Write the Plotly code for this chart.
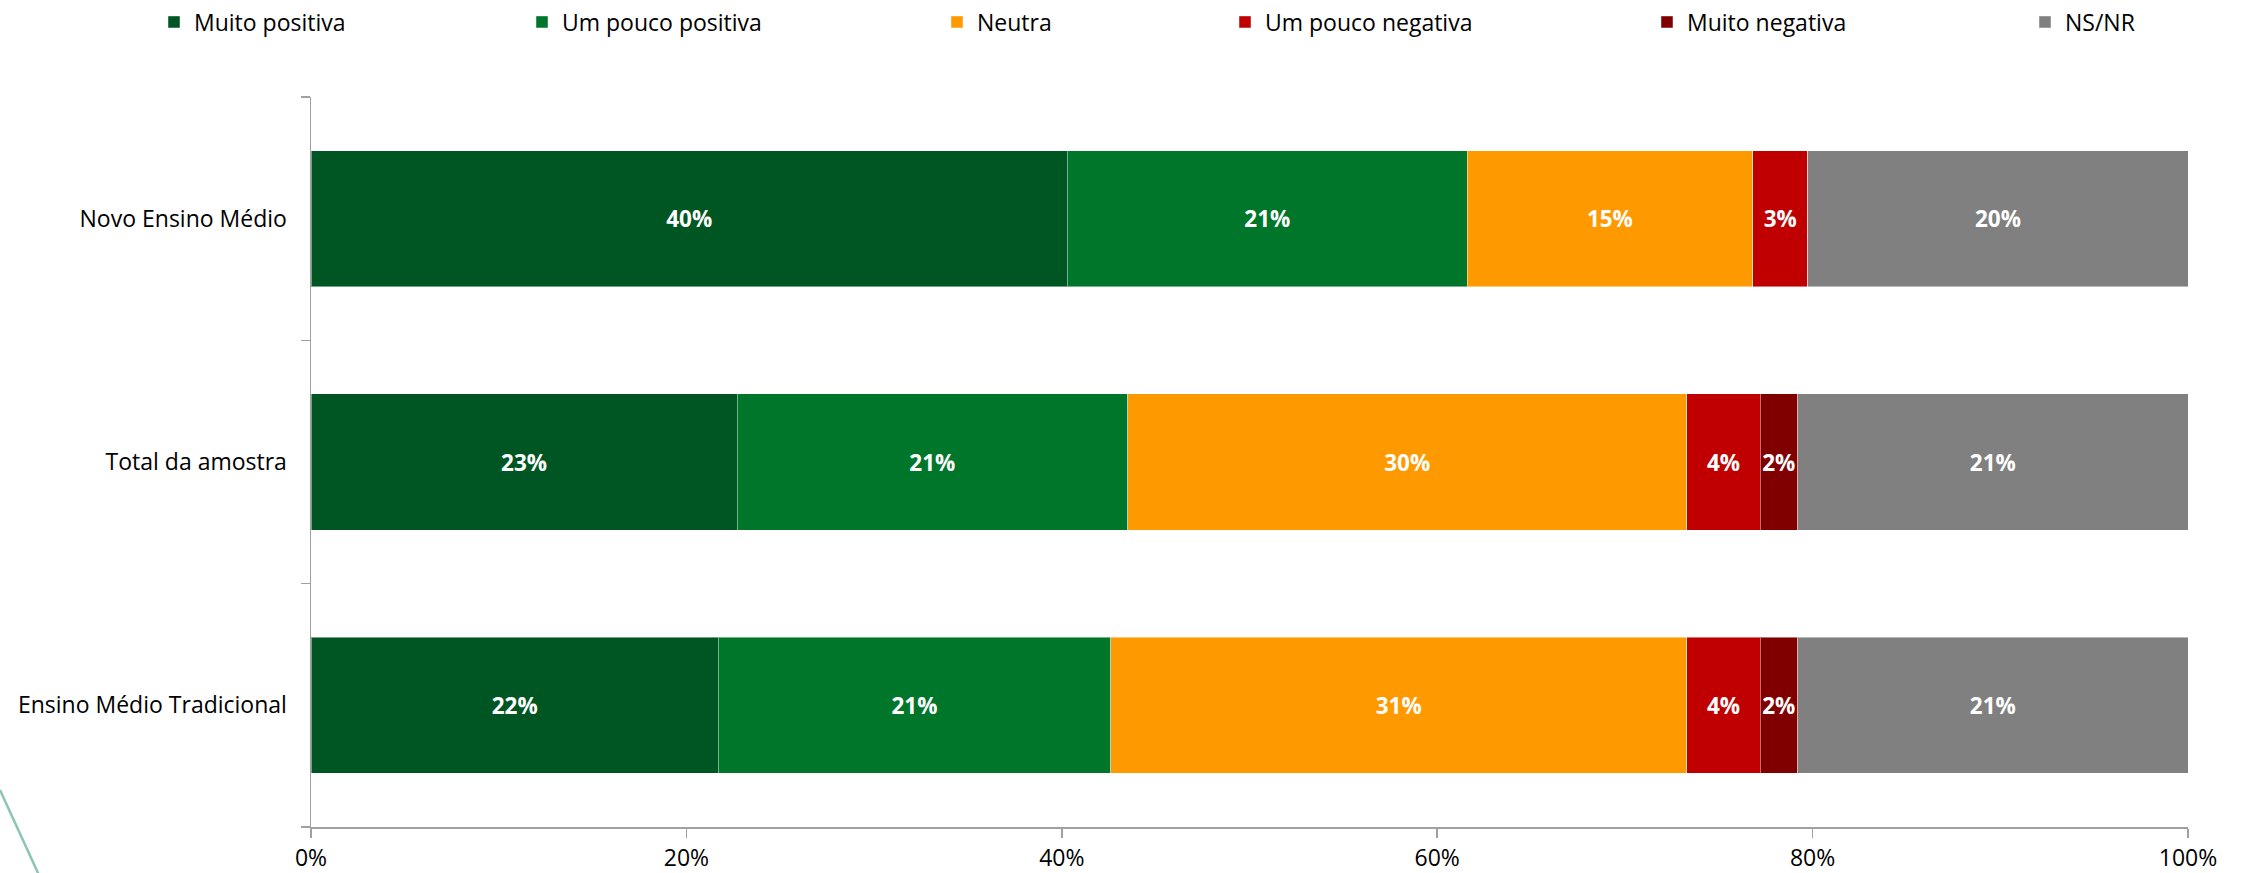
import plotly.graph_objects as go

categories = ["Novo Ensino Médio", "Total da amostra", "Ensino Médio Tradicional"]
series_names = ["Muito positiva", "Um pouco positiva", "Neutra",
                "Um pouco negativa", "Muito negativa", "NS/NR"]
muito_positiva = [40.3, 22.7, 21.7]
um_pouco_positiva = [21.3, 20.8, 20.9]
neutra = [15.2, 29.8, 30.7]
um_pouco_negativa = [2.95, 3.9, 3.9]
muito_negativa = [0.0, 2.0, 2.0]
ns_nr = [20.25, 20.8, 20.8]
x_ticks = [0, 20, 40, 60, 80, 100]
x_tick_labels = ["0%", "20%", "40%", "60%", "80%", "100%"]

values = [muito_positiva, um_pouco_positiva, neutra, um_pouco_negativa, muito_negativa, ns_nr]
colors = ["#005622", "#00762A", "#FF9900", "#C00000", "#800000", "#808080"]

W, H = 2248, 873
L, R, T, B = 311, 2188, 97, 827
FONT = "Open Sans"

# legend symbol centres (px)
leg_centers = [175, 543, 958, 1246, 1668, 2046]

fig = go.Figure()
for i, (name, vals, col) in enumerate(zip(series_names, values, colors)):
    txt = [f"{v:.0f}%" if v > 0.5 else "" for v in vals]
    fig.add_trace(go.Bar(
        y=categories, x=vals, name=name, orientation="h",
        marker=dict(color=col, line=dict(color="rgba(255,255,255,0.45)", width=1)),
        text=txt, textposition="inside", insidetextanchor="middle",
        textangle=0, constraintext="none",
        textfont=dict(family=FONT, size=22.5, color="white", weight="bold"),
        legend="legend" if i == 0 else f"legend{i+1}",
        showlegend=True,
        hoverinfo="skip",
    ))

layout_legends = {}
for i, cx in enumerate(leg_centers):
    key = "legend" if i == 0 else f"legend{i+1}"
    layout_legends[key] = dict(
        x=(cx - 21) / W, xref="container", xanchor="left",
        y=1 - 22 / H, yref="container", yanchor="middle",
        orientation="h", bgcolor="rgba(0,0,0,0)", borderwidth=0,
        font=dict(family=FONT, size=23, color="#000000"),
        itemwidth=30, visible=True,
    )

axis_col = "#A0A0A0"
fig.update_layout(
    template="none",
    width=W, height=H, autosize=False, showlegend=True,
    margin=dict(l=L, r=W - R, t=T, b=H - B, pad=0, autoexpand=False),
    barmode="stack", bargap=0.44,
    plot_bgcolor="white", paper_bgcolor="white",
    font=dict(family=FONT, size=23, color="#000000"),
    xaxis=dict(range=[0, 100], tickvals=x_ticks, ticktext=x_tick_labels,
               showgrid=False, zeroline=False, showline=True, linecolor=axis_col,
               linewidth=1.5, ticks="outside", ticklen=9, tickcolor=axis_col,
               tickwidth=1.5, ticklabelstandoff=1, automargin=False,
               tickfont=dict(family=FONT, size=23, color="#000000"), fixedrange=True),
    yaxis=dict(categoryorder="array", categoryarray=categories[::-1],
               showgrid=False, zeroline=False, showline=True, linecolor=axis_col,
               linewidth=1.5, ticks="outside", ticklen=9, tickcolor=axis_col,
               tickwidth=1.5, tickson="boundaries", ticklabelstandoff=18, automargin=False,
               tickfont=dict(family=FONT, size=23, color="#000000"), fixedrange=True),
    **layout_legends,
)

# decorative teal diagonal line at bottom-left
def px_to_paper_x(px):
    return (px - L) / (R - L)

def px_to_paper_y(py):
    return (B - py) / (B - T)

fig.add_shape(type="line", xref="paper", yref="paper",
              x0=px_to_paper_x(0), y0=px_to_paper_y(790),
              x1=px_to_paper_x(60), y1=px_to_paper_y(921),
              line=dict(color="#8CC4B5", width=2.5), layer="above")

fig.write_html("out.html", config={"displayModeBar": False, "staticPlot": True},
               post_script="document.body.style.margin='0';document.body.style.overflow='hidden';")
